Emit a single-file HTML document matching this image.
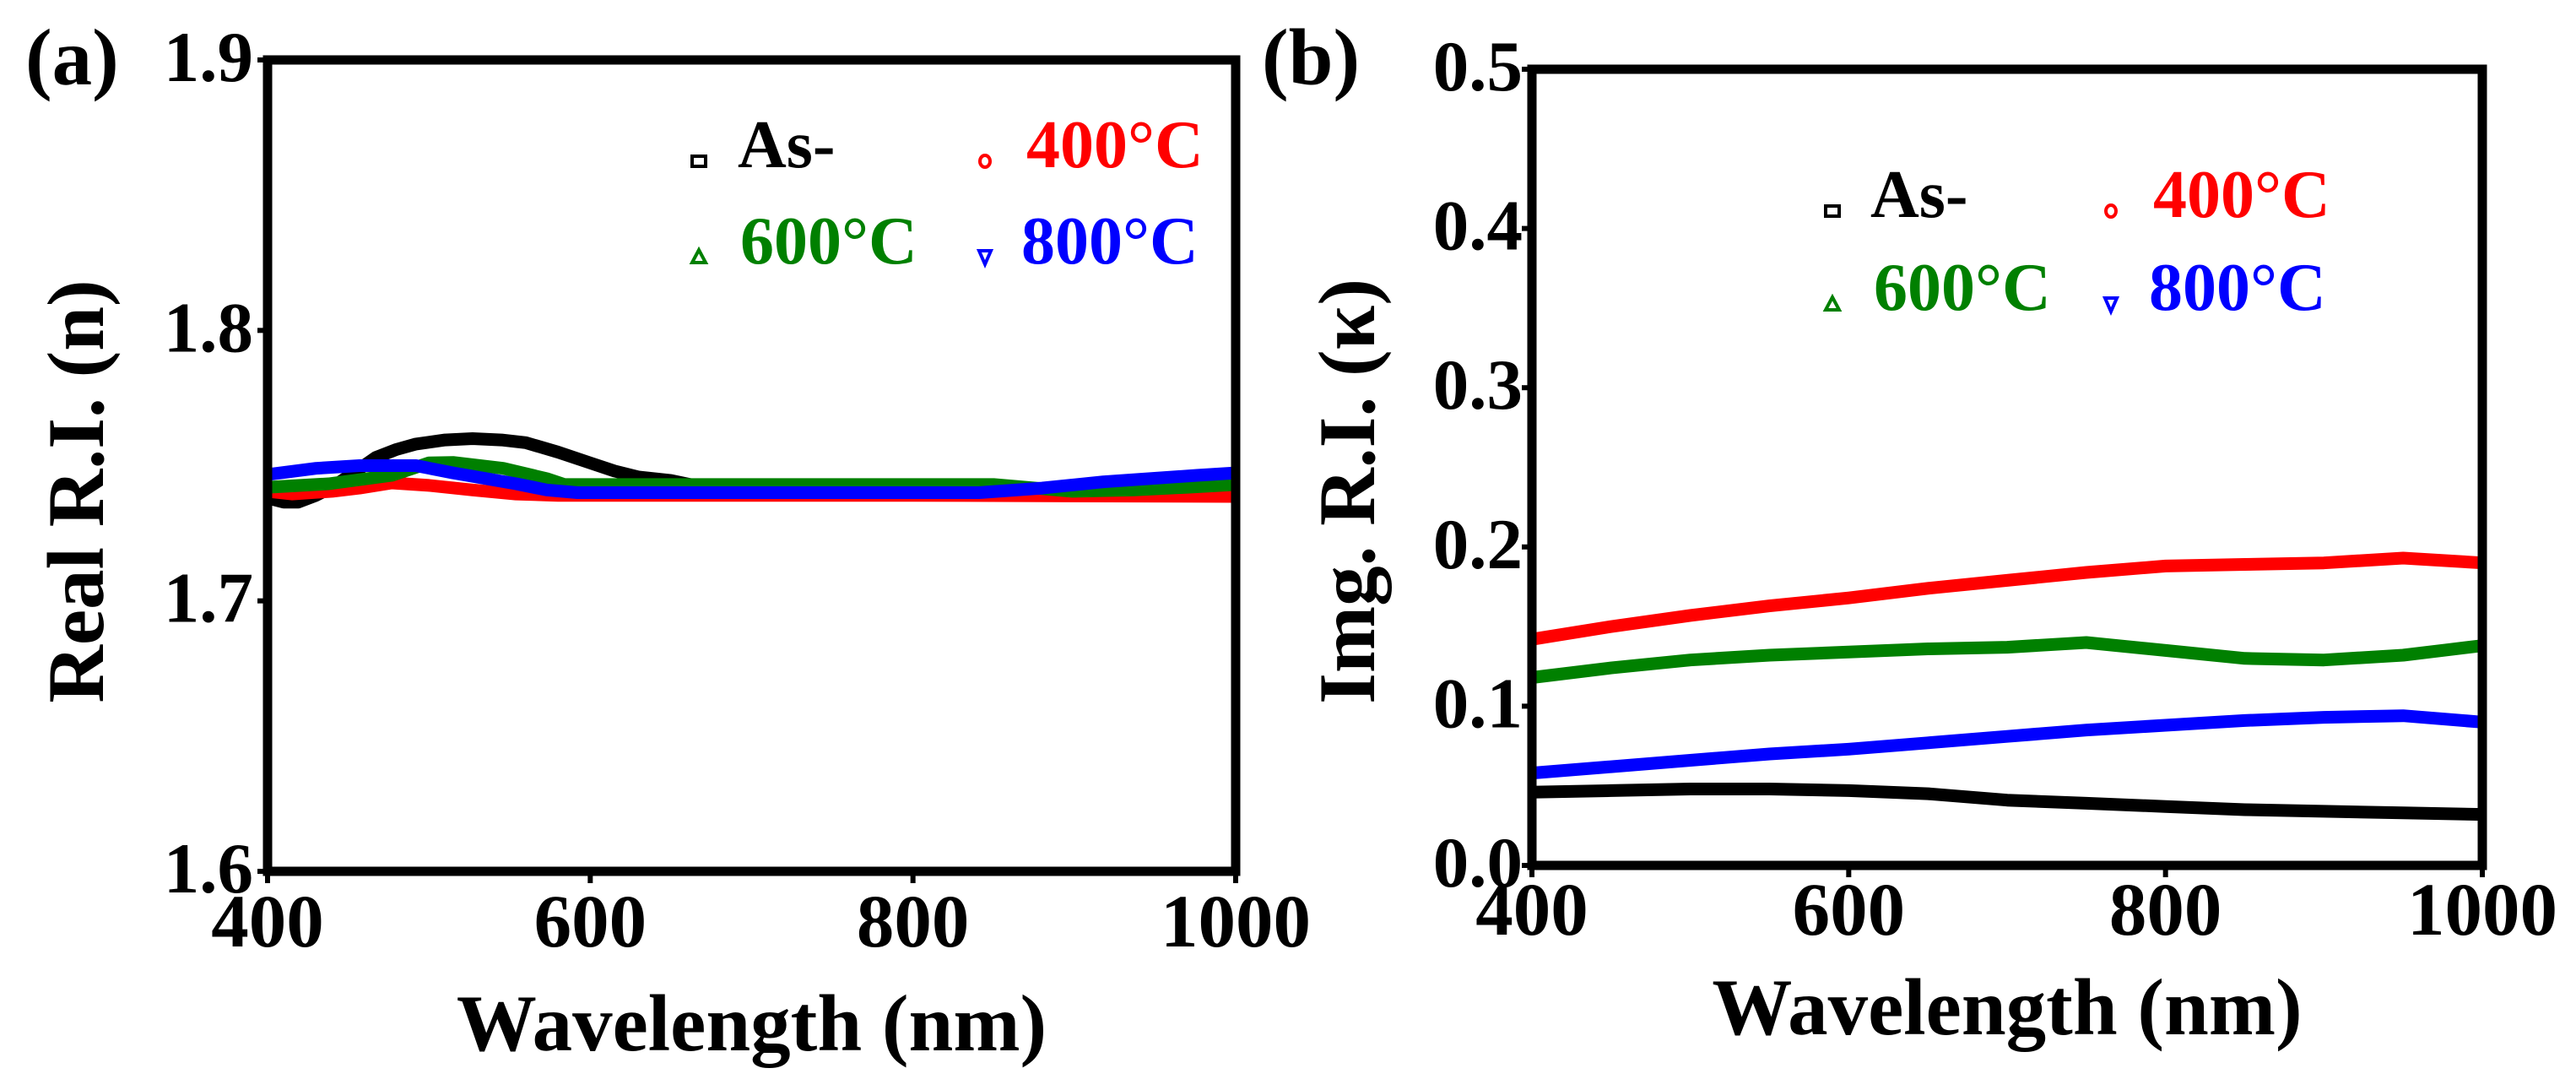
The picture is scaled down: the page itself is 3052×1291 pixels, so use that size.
<!DOCTYPE html>
<html>
<head>
<meta charset="utf-8">
<style>
html,body{margin:0;padding:0;background:#fff;}
svg{display:block;}
text{font-family:"Liberation Serif","DejaVu Serif",serif;font-weight:bold;}
</style>
</head>
<body>
<svg id="fig" width="3052" height="1291" viewBox="0 0 3052 1291" xmlns="http://www.w3.org/2000/svg">
  <g id="panelA"></g>
  <g id="panelB"></g>
</svg>
<script>
// ---------- Panel (a) data: real refractive index ----------
const aBlackX = [400, 410, 419, 430, 440, 455, 467, 480, 492, 510, 527, 545, 560, 580, 600, 615, 630, 650, 670, 700, 800, 900, 1000];
const aBlackY = [1.738, 1.7365, 1.7365, 1.739, 1.742, 1.748, 1.753, 1.756, 1.758, 1.7595, 1.760, 1.7595, 1.7585, 1.755, 1.751, 1.748, 1.7458, 1.7445, 1.742, 1.740, 1.7395, 1.739, 1.739];
const aRedX = [400, 415, 440, 457, 477, 500, 527, 554, 580, 650, 800, 900, 1000];
const aRedY = [1.7405, 1.7395, 1.7405, 1.7417, 1.7436, 1.7427, 1.741, 1.7395, 1.739, 1.739, 1.739, 1.7388, 1.7386];
const aGreenX = [400, 438, 477, 500, 515, 546, 573, 584, 650, 750, 850, 899, 937, 970, 1000];
const aGreenY = [1.742, 1.7433, 1.7464, 1.751, 1.7512, 1.749, 1.7452, 1.743, 1.743, 1.743, 1.743, 1.7405, 1.741, 1.742, 1.743];
const aBlueX = [400, 430, 457, 492, 515, 554, 573, 592, 667, 760, 841, 880, 918, 976, 1000];
const aBlueY = [1.7467, 1.749, 1.750, 1.750, 1.7473, 1.7433, 1.741, 1.740, 1.740, 1.740, 1.740, 1.7417, 1.744, 1.7464, 1.7473];
const aYTicks = [1.6, 1.7, 1.8, 1.9];
const aYTickLabels = ["1.6", "1.7", "1.8", "1.9"];
const xTicks = [400, 600, 800, 1000];
const xTickLabels = ["400", "600", "800", "1000"];

// ---------- Panel (b) data: imaginary refractive index ----------
const bWl = [400, 450, 500, 550, 600, 650, 700, 750, 800, 850, 900, 950, 1000];
const bBlack = [0.046, 0.047, 0.048, 0.048, 0.047, 0.045, 0.041, 0.039, 0.037, 0.035, 0.034, 0.033, 0.032];
const bRed = [0.142, 0.150, 0.157, 0.163, 0.168, 0.174, 0.179, 0.184, 0.188, 0.189, 0.190, 0.193, 0.190];
const bGreen = [0.118, 0.124, 0.129, 0.132, 0.134, 0.136, 0.137, 0.140, 0.135, 0.130, 0.129, 0.132, 0.138];
const bBlue = [0.058, 0.062, 0.066, 0.070, 0.073, 0.077, 0.081, 0.085, 0.088, 0.091, 0.093, 0.094, 0.090];
const bYTicks = [0.0, 0.1, 0.2, 0.3, 0.4, 0.5];
const bYTickLabels = ["0.0", "0.1", "0.2", "0.3", "0.4", "0.5"];

const NS = "http://www.w3.org/2000/svg";
function mk(parent, tag, attrs, txt) {
  const e = document.createElementNS(NS, tag);
  for (const k in attrs) e.setAttribute(k, attrs[k]);
  if (txt !== undefined) e.textContent = txt;
  parent.appendChild(e);
  return e;
}

function drawPanel(g, cfg) {
  const sx = v => cfg.left + (v - cfg.xmin) / (cfg.xmax - cfg.xmin) * (cfg.right - cfg.left);
  const sy = v => cfg.bottom - (v - cfg.ymin) / (cfg.ymax - cfg.ymin) * (cfg.bottom - cfg.top);

  // series
  cfg.series.forEach(s => {
    const pts = s.x.map((xv, i) => sx(xv).toFixed(1) + "," + sy(s.y[i]).toFixed(1)).join(" ");
    const pl = mk(g, "polyline", {points: pts, fill: "none", stroke: s.color, "stroke-width": 15, "stroke-linejoin": "round", "stroke-linecap": "butt"});
    
    
  });

  // frame
  const fr = mk(g, "rect", {x: cfg.left, y: cfg.top, width: cfg.right - cfg.left, height: cfg.bottom - cfg.top, fill: "none", stroke: "#000", "stroke-width": 11});
  
  

  // y ticks
  cfg.yTicks.forEach((t, i) => {
    const y = sy(t);
    const tk = mk(g, "line", {x1: cfg.left - 12, x2: cfg.left, y1: y, y2: y, stroke: "#000", "stroke-width": 6});
    
    
    const lb = mk(g, "text", {x: cfg.yLabelRight, y: y + 25, "text-anchor": "end", "font-size": 85, fill: "#000"}, cfg.yTickLabels[i]);
    
    
  });

  // x ticks
  cfg.xTicks.forEach((t, i) => {
    const x = sx(t);
    const tk = mk(g, "line", {x1: x, x2: x, y1: cfg.bottom, y2: cfg.bottom + 14, stroke: "#000", "stroke-width": 6});
    
    
    const lb = mk(g, "text", {x: x, y: cfg.xLabelBase, "text-anchor": "middle", "font-size": 89, fill: "#000"}, cfg.xTickLabels[i]);
    
    
  });

  // axis titles
  const xt = mk(g, "text", {x: (cfg.left + cfg.right) / 2, y: cfg.xTitleBase, "text-anchor": "middle", "font-size": 95, fill: "#000"}, "Wavelength (nm)");
  
  
  const yt = mk(g, "text", {x: 0, y: 0, "text-anchor": "middle", "font-size": 95, fill: "#000", transform: "translate(" + cfg.yTitleX + "," + cfg.yTitleY + ") rotate(-90)"}, cfg.yTitle);
  
  

  // panel label
  const pl = mk(g, "text", {x: cfg.panelX, y: 100, "font-size": 95, fill: "#000"}, cfg.panelLabel);
  
  

  // legend
  cfg.legend.forEach(L => {
    const lg = mk(g, "g", {});
    
    
    if (L.shape === "square") {
      mk(lg, "rect", {x: L.mx - 8, y: L.my - 6, width: 16, height: 12, fill: "none", stroke: L.color, "stroke-width": 4});
    } else if (L.shape === "circle") {
      mk(lg, "ellipse", {cx: L.mx, cy: L.my, rx: 6, ry: 7, fill: "none", stroke: L.color, "stroke-width": 4});
    } else if (L.shape === "tri") {
      mk(lg, "polygon", {points: (L.mx - 8) + "," + (L.my + 7) + " " + (L.mx + 8) + "," + (L.my + 7) + " " + L.mx + "," + (L.my - 8), fill: "none", stroke: L.color, "stroke-width": 4});
    } else {
      mk(lg, "polygon", {points: (L.mx - 7) + "," + (L.my - 7) + " " + (L.mx + 7) + "," + (L.my - 7) + " " + L.mx + "," + (L.my + 9), fill: "none", stroke: L.color, "stroke-width": 4});
    }
    mk(lg, "text", {x: L.tx, y: L.ty, "font-size": 80, fill: L.color}, L.label);
  });
}

drawPanel(document.getElementById("panelA"), {
  left: 317, right: 1464, top: 71, bottom: 1032,
  xmin: 400, xmax: 1000, ymin: 1.6, ymax: 1.9,
  yTicks: aYTicks, yTickLabels: aYTickLabels, xTicks: xTicks, xTickLabels: xTickLabels,
  yLabelRight: 300, xLabelBase: 1121, xTitleBase: 1244,
  yTitle: "Real R.I. (n)", yTitleX: 122, yTitleY: 582,
  panelLabel: "(a)", panelX: 30,
  series: [
    {name: "series-as-deposited", color: "#000000", x: aBlackX, y: aBlackY},
    {name: "series-400c", color: "#ff0000", x: aRedX, y: aRedY},
    {name: "series-600c", color: "#008000", x: aGreenX, y: aGreenY},
    {name: "series-800c", color: "#0000ff", x: aBlueX, y: aBlueY}
  ],
  legend: [
    {shape: "square", color: "#000", mx: 828, my: 191, tx: 874, ty: 198, label: "As-"},
    {shape: "circle", color: "#ff0000", mx: 1167, my: 191, tx: 1216, ty: 198, label: "400°C"},
    {shape: "tri", color: "#008000", mx: 828, my: 304, tx: 877, ty: 312, label: "600°C"},
    {shape: "down", color: "#0000ff", mx: 1167, my: 304, tx: 1210, ty: 312, label: "800°C"}
  ]
});

drawPanel(document.getElementById("panelB"), {
  left: 1815, right: 2941, top: 82, bottom: 1025,
  xmin: 400, xmax: 1000, ymin: 0, ymax: 0.5,
  yTicks: bYTicks, yTickLabels: bYTickLabels, xTicks: xTicks, xTickLabels: xTickLabels,
  yLabelRight: 1804, xLabelBase: 1107, xTitleBase: 1225,
  yTitle: "Img. R.I. (κ)", yTitleX: 1628, yTitleY: 582,
  panelLabel: "(b)", panelX: 1495,
  series: [
    {name: "series-as-deposited", color: "#000000", x: bWl, y: bBlack},
    {name: "series-400c", color: "#ff0000", x: bWl, y: bRed},
    {name: "series-600c", color: "#008000", x: bWl, y: bGreen},
    {name: "series-800c", color: "#0000ff", x: bWl, y: bBlue}
  ],
  legend: [
    {shape: "square", color: "#000", mx: 2171, my: 250, tx: 2216, ty: 257, label: "As-"},
    {shape: "circle", color: "#ff0000", mx: 2501, my: 250, tx: 2551, ty: 257, label: "400°C"},
    {shape: "tri", color: "#008000", mx: 2171, my: 360, tx: 2220, ty: 367, label: "600°C"},
    {shape: "down", color: "#0000ff", mx: 2501, my: 360, tx: 2546, ty: 367, label: "800°C"}
  ]
});
</script>
</body>
</html>
